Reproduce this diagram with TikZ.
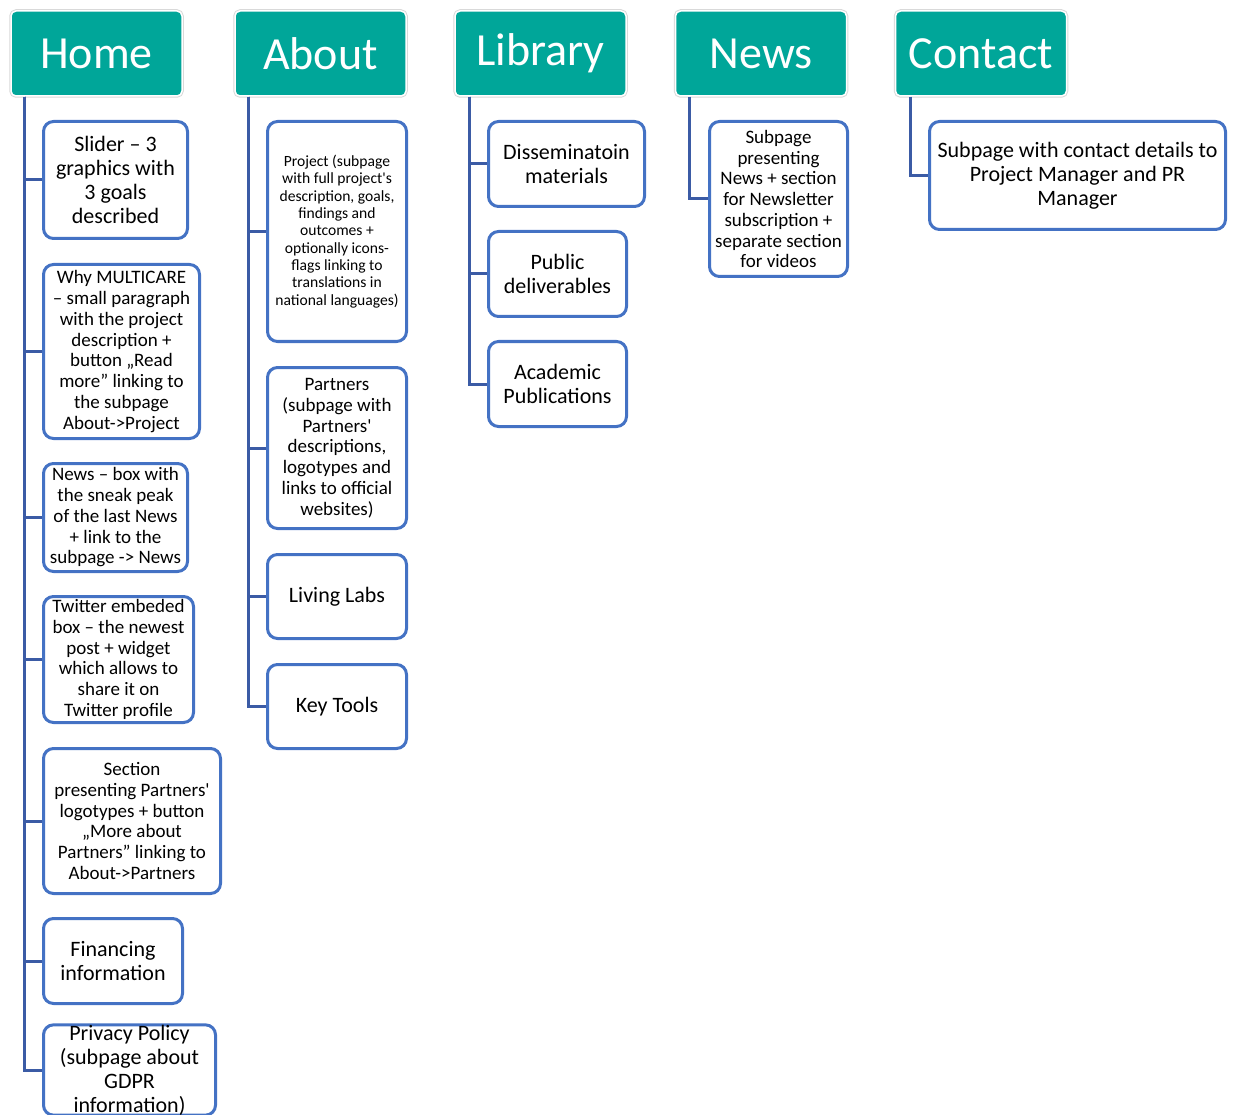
\documentclass[tikz,border=0pt]{standalone}
\usepackage{fontspec}
\setmainfont{Carlito}
\definecolor{headteal}{HTML}{00A699}
\definecolor{boxblue}{HTML}{4472C4}
\definecolor{linkblue}{HTML}{3B5BA5}
\newcommand\fhead{\fontsize{46}{55}\selectfont}
\newcommand\fbig{\fontsize{22}{24}\selectfont}
\newcommand\fmid{\fontsize{19}{20.75}\selectfont}
\newcommand\fsmall{\fontsize{15.6}{17.3}\selectfont}
\tikzset{
  head/.style = {fill = headteal, draw = white, line width = 1.5pt,
    rounded corners = 5pt, preaction = {draw = black!15, line width = 3.5pt},
    text = white, font = \fhead, minimum width = 171pt, minimum height = 85pt},
  leaf/.style = {draw = boxblue, fill = white, line width = 3pt,
    rounded corners = 10pt, align = center, inner sep = 1pt},
  link/.style = {draw = linkblue, line width = 3pt}
}

\begin{document}
\begin{tikzpicture}[x = 1pt, y = -1pt]
  \useasboundingbox (0, 0) rectangle (1237, 1115);
  \clip (0, 0) rectangle (1237, 1115);
  % menu headers
  \node[head] (home) at (96.5, 53.5) {Home};
  \node[head] (about) at (320.5, 53.5) {About};
  \node[head] (library) at (540.5, 53.5) {Library};
  \node[head] (news) at (761, 53.5) {News};
  \node[head] (contact) at (981, 53.5) {Contact};
  % home page sections
  \node[leaf, font = \fbig, minimum width = 144pt, minimum height = 117pt]
  (slider) at (115.5, 180) {Slider -- 3\\graphics with\\3 goals\\described};
  \node[leaf, font = \fmid, minimum width = 156pt, minimum height = 174pt]
  (why) at (121.5, 351.5) {Why MULTICARE\\-- small paragraph\\with the project\\description +\\button „Read\\more” linking to\\the subpage\\About->Project};
  \node[leaf, font = \fmid, minimum width = 144pt, minimum height = 108pt]
  (newsbox) at (115.5, 517.5) {News -- box with\\the sneak peak\\of the last News\\+ link to the\\subpage -> News};
  \node[leaf, font = \fmid, minimum width = 150pt, minimum height = 126pt]
  (twitter) at (118.5, 659.5) {Twitter embeded\\box -- the newest\\post + widget\\which allows to\\share it on\\Twitter profile};
  \node[leaf, font = \fmid, minimum width = 177pt, minimum height = 145pt]
  (section) at (132, 821) {Section\\presenting Partners\textquotesingle\\logotypes + button\\„More about\\Partners” linking to\\About->Partners};
  \node[leaf, font = \fbig, minimum width = 139pt, minimum height = 85pt]
  (financing) at (113, 961) {Financing\\information};
  \node[leaf, font = \fbig, minimum width = 172pt, minimum height = 83pt, inner ysep = 0pt]
  (privacy) at (129.5, 1070) {Privacy Policy\\(subpage about\\GDPR\\information)};
  % about subpages
  \node[leaf, font = \fsmall, minimum width = 139pt, minimum height = 220pt]
  (project) at (337, 231.5) {Project (subpage\\with full project\textquotesingle s\\description, goals,\\findings and\\outcomes +\\optionally icons-\\flags linking to\\translations in\\national languages)};
  \node[leaf, font = \fmid, minimum width = 139pt, minimum height = 161pt]
  (partners) at (337, 448) {Partners\\(subpage with\\Partners\textquotesingle\\descriptions,\\logotypes and\\links to official\\websites)};
  \node[leaf, font = \fbig, minimum width = 139pt, minimum height = 84pt]
  (livinglabs) at (337, 596.5) {Living Labs};
  \node[leaf, font = \fbig, minimum width = 139pt, minimum height = 84pt]
  (keytools) at (337, 706.5) {Key Tools};
  % library subpages
  \node[leaf, font = \fbig, minimum width = 156pt, minimum height = 85pt]
  (dissem) at (566.5, 164) {Disseminatoin\\materials};
  \node[leaf, font = \fbig, minimum width = 138pt, minimum height = 85pt]
  (public) at (557.5, 274) {Public\\deliverables};
  \node[leaf, font = \fbig, minimum width = 138pt, minimum height = 85pt]
  (academic) at (557.5, 384) {Academic\\Publications};
  % news and contact subpages
  \node[leaf, font = \fmid, minimum width = 138pt, minimum height = 155pt]
  (newspage) at (778.5, 199) {Subpage\\presenting\\News + section\\for Newsletter\\subscription +\\separate section\\for videos};
  \node[leaf, font = \fbig, minimum width = 296pt, minimum height = 108pt]
  (contactpage) at (1077.5, 175.5) {Subpage with contact details to\\Project Manager and PR\\Manager};
  % tree connectors
  \foreach \leaf in {slider, why, newsbox, twitter, section, financing, privacy}
    \draw[link] ([xshift = 14.5pt]home.south west) |- (\leaf.west);
  \foreach \leaf in {project, partners, livinglabs, keytools}
    \draw[link] ([xshift = 14.5pt]about.south west) |- (\leaf.west);
  \foreach \leaf in {dissem, public, academic}
    \draw[link] ([xshift = 15pt]library.south west) |- (\leaf.west);
  \draw[link] ([xshift = 15pt]news.south west) |- (newspage.west);
  \draw[link] ([xshift = 16pt]contact.south west) |- (contactpage.west);
\end{tikzpicture}
\end{document}
